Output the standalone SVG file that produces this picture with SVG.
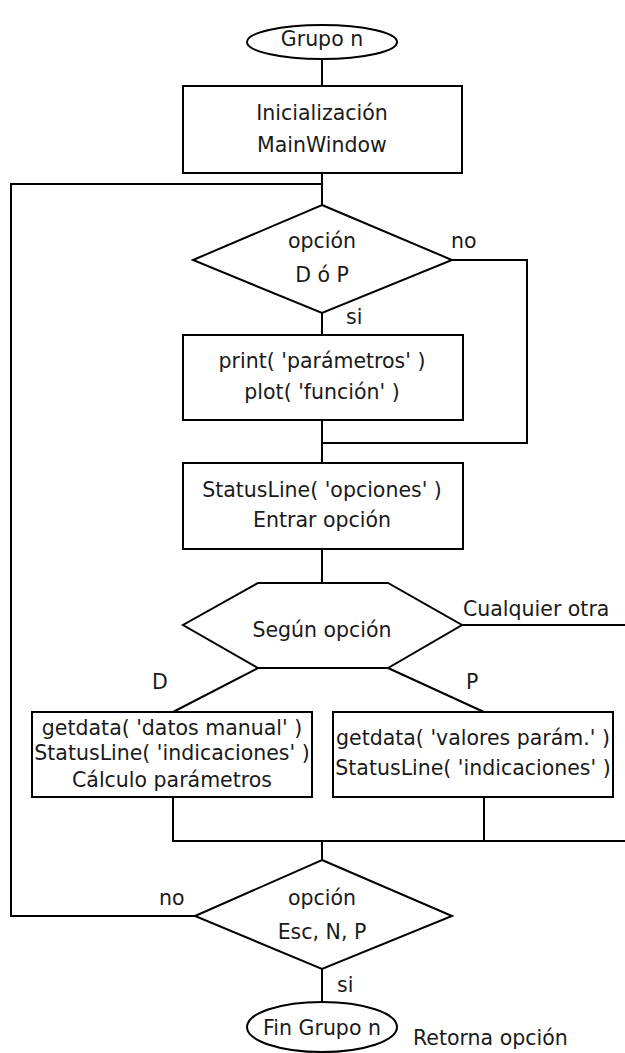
<svg xmlns="http://www.w3.org/2000/svg" width="625" height="1053" viewBox="0 0 625 1053">
  <style>
    .shape { fill: #ffffff; stroke: #000000; stroke-width: 2; }
    .wire { fill: none; stroke: #000000; stroke-width: 2; }
    text { font-family: "DejaVu Sans", "Liberation Sans", sans-serif; font-size: 20.5px; fill: #1a1a1a; }
    .c { text-anchor: middle; }
  </style>

  <!-- connectors -->
  <g id="connectors" class="wire">
    <line x1="322" y1="59" x2="322" y2="86"/>
    <line x1="322" y1="173" x2="322" y2="205"/>
    <!-- loop back from the final decision -->
    <polyline points="195,916 11,916 11,184 322,184"/>
    <!-- "si" branch of first decision -->
    <line x1="322" y1="313" x2="322" y2="335"/>
    <!-- "no" branch of first decision -->
    <polyline points="452,260 527,260 527,443 322,443"/>
    <line x1="322" y1="420" x2="322" y2="463"/>
    <line x1="322" y1="549" x2="322" y2="583"/>
    <!-- switch outputs -->
    <line x1="462" y1="625" x2="625" y2="625"/>
    <line x1="258" y1="668" x2="173" y2="712"/>
    <line x1="388" y1="668" x2="484" y2="712"/>
    <!-- merge below the cases -->
    <polyline points="173,797 173,841 625,841"/>
    <line x1="484" y1="797" x2="484" y2="841"/>
    <line x1="322" y1="841" x2="322" y2="860"/>
    <line x1="322" y1="969" x2="322" y2="1002"/>
  </g>

  <g id="start">
    <ellipse class="shape" cx="322" cy="42" rx="75" ry="17"/>
    <text class="c" x="322" y="46">Grupo n</text>
  </g>

  <g id="init">
    <rect class="shape" x="183" y="86" width="279" height="87"/>
    <text class="c" x="322" y="120">Inicialización</text>
    <text class="c" x="322" y="152">MainWindow</text>
  </g>

  <g id="decision-dp">
    <polygon class="shape" points="322,205 452,260 322,313 193,260"/>
    <text class="c" x="322" y="248">opción</text>
    <text class="c" x="322" y="282">D ó P</text>
    <text x="451" y="248">no</text>
    <text x="346" y="324">si</text>
  </g>

  <g id="output">
    <rect class="shape" x="183" y="335" width="280" height="85"/>
    <text class="c" x="322" y="368">print( 'parámetros' )</text>
    <text class="c" x="322" y="399">plot( 'función' )</text>
  </g>

  <g id="status">
    <rect class="shape" x="183" y="463" width="280" height="86"/>
    <text class="c" x="322" y="497">StatusLine( 'opciones' )</text>
    <text class="c" x="322" y="527">Entrar opción</text>
  </g>

  <g id="switch">
    <polygon class="shape" points="258,583 388,583 462,625 388,668 258,668 183,625"/>
    <text class="c" x="322" y="637">Según opción</text>
    <text x="463" y="616">Cualquier otra</text>
    <text x="152" y="689">D</text>
    <text x="466" y="689">P</text>
  </g>

  <g id="case-d">
    <rect class="shape" x="32" y="712" width="280" height="85"/>
    <text class="c" x="172" y="735">getdata( 'datos manual' )</text>
    <text class="c" x="172" y="760">StatusLine( 'indicaciones' )</text>
    <text class="c" x="172" y="787">Cálculo parámetros</text>
  </g>

  <g id="case-p">
    <rect class="shape" x="333" y="712" width="280" height="85"/>
    <text class="c" x="473" y="745">getdata( 'valores parám.' )</text>
    <text class="c" x="473" y="775">StatusLine( 'indicaciones' )</text>
  </g>

  <g id="decision-exit">
    <polygon class="shape" points="322,860 452,916 322,969 195,916"/>
    <text class="c" x="322" y="905">opción</text>
    <text class="c" x="322" y="939">Esc, N, P</text>
    <text x="159" y="905">no</text>
    <text x="337" y="992">si</text>
  </g>

  <g id="end">
    <ellipse class="shape" cx="322" cy="1027" rx="75" ry="25"/>
    <text class="c" x="322" y="1035">Fin Grupo n</text>
    <text x="413" y="1045">Retorna opción</text>
  </g>
</svg>
